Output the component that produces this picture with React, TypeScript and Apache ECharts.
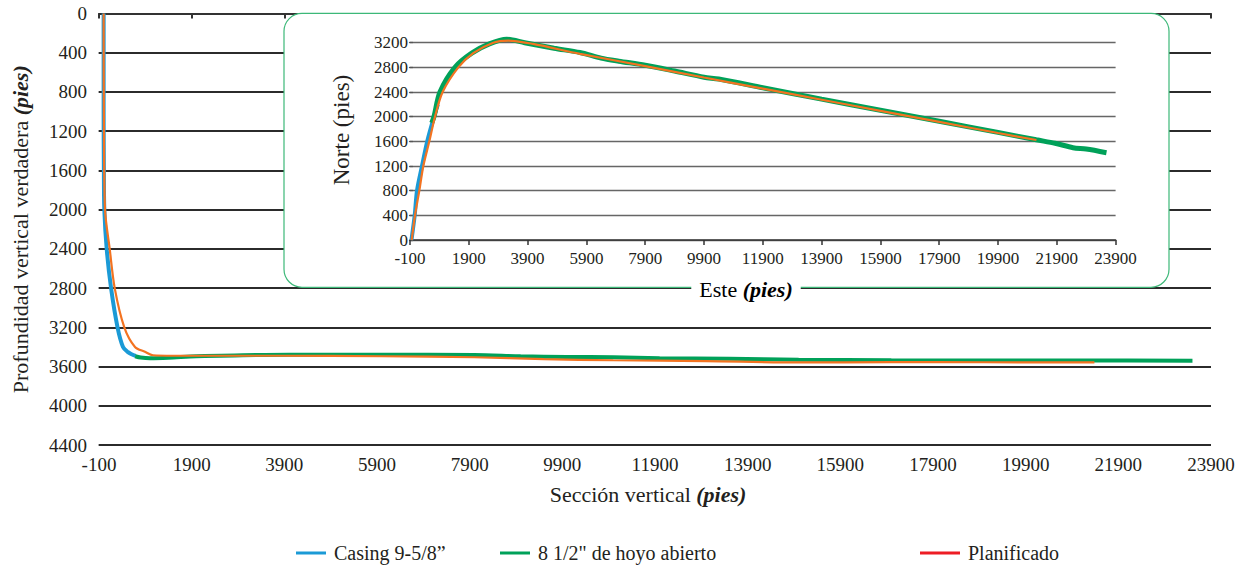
import React, { useEffect, useRef } from 'react';
import * as echarts from 'echarts';

const FONT = 'Liberation Serif';
const TXT = '#231f20';

const SERIES_NAMES = ['Casing 9-5/8”', '8 1/2" de hoyo abierto', 'Planificado'];
const LINE_COLORS = ['#1b9ad6', '#00a159', '#f37321'];
const LEGEND_COLORS = ['#1b9ad6', '#00a159', '#ed1c24'];

// Main chart ticks
const mainXTicks = [-100, 1900, 3900, 5900, 7900, 9900, 11900, 13900, 15900, 17900, 19900, 21900, 23900];
const mainYTicks = [0, 400, 800, 1200, 1600, 2000, 2400, 2800, 3200, 3600, 4000, 4400];
// Inset ticks
const insetXTicks = [-100, 1900, 3900, 5900, 7900, 9900, 11900, 13900, 15900, 17900, 19900, 21900, 23900];
const insetYTicks = [0, 400, 800, 1200, 1600, 2000, 2400, 2800, 3200];

// Main chart: vertical section (x) vs true vertical depth (y)
const casingVS = [0, 0, 5, 15, 66, 160, 300, 418, 526, 605, 690];
const casingTVD = [0, 1000, 1600, 2000, 2400, 2800, 3200, 3400, 3453, 3475, 3492];

const openHoleVS = [680, 800, 1000, 1400, 2000, 3000, 4000, 6000, 8000, 9000, 10000, 11000, 12000, 13500, 15000, 17000, 19000, 21000, 23500];
const openHoleTVD = [3495, 3508, 3515, 3510, 3495, 3485, 3480, 3480, 3482, 3495, 3502, 3505, 3515, 3520, 3530, 3537, 3538, 3538, 3540];

const plannedVS = [0, 5, 30, 131, 239, 446, 677, 892, 1065, 1500, 3800, 6000, 8000, 9500, 11000, 13000, 15000, 17000, 19000, 21384];
const plannedTVD = [0, 1000, 2000, 2400, 2800, 3200, 3400, 3449, 3485, 3490, 3490, 3495, 3505, 3525, 3536, 3545, 3558, 3555, 3556, 3558];

// Inset: Este (x) vs Norte (y)
const casingE = [-50, 60, 138, 308, 485, 716, 850];
const casingN = [0, 400, 800, 1200, 1600, 2000, 2200];

const openHoleE = [640, 716, 920, 1430, 2000, 2600, 3190, 3800, 4800, 5680, 6400, 7000, 7900, 8900, 9900, 10400, 11900, 13900, 15900, 17900, 19900, 21200, 21840, 22450, 22900, 23590];
const openHoleN = [1900, 2000, 2400, 2800, 3030, 3180, 3255, 3200, 3110, 3040, 2950, 2900, 2835, 2740, 2640, 2610, 2470, 2285, 2105, 1925, 1745, 1625, 1570, 1497, 1475, 1416];

const plannedE = [-42, 70, 217, 353, 557, 750, 1010, 1543, 2052, 2732, 3232, 4082, 5680, 7900, 9900, 11900, 13900, 15900, 17900, 19900, 21208];
const plannedN = [0, 400, 800, 1200, 1600, 2000, 2400, 2800, 3030, 3200, 3235, 3180, 3020, 2820, 2635, 2455, 2275, 2095, 1915, 1735, 1622];

const zip = (a: number[], b: number[]) => a.map((v, i) => [v, b[i]]);
const plain = (v: number) => String(v);

export default function App() {
  const ref = useRef<HTMLDivElement>(null);
  useEffect(() => {
    document.body.style.margin = '0';
    if (!ref.current) return;
    const chart = echarts.init(ref.current, undefined, { renderer: 'svg' });

    const titleRich = {
      a: { fontFamily: FONT, fontSize: 22, color: TXT },
      b: { fontFamily: FONT, fontSize: 22, color: TXT, fontStyle: 'italic', fontWeight: 'bold' },
    };

    const mainData = [zip(casingVS, casingTVD), zip(openHoleVS, openHoleTVD), zip(plannedVS, plannedTVD)];
    const insetData = [zip(casingE, casingN), zip(openHoleE, openHoleN), zip(plannedE, plannedN)];
    const widths = [4, 4, 2.2];
    const insetWidths = [4, 5, 2.2];

    const series: any[] = [];
    for (let i = 0; i < 3; i++) {
      series.push({
        type: 'line', name: SERIES_NAMES[i], xAxisIndex: 0, yAxisIndex: 0,
        data: mainData[i], symbol: 'none', showSymbol: false, smooth: 0.3,
        color: LEGEND_COLORS[i], lineStyle: { color: LINE_COLORS[i], width: widths[i] }, z: 2,
      });
    }
    for (let i = 0; i < 3; i++) {
      series.push({
        type: 'line', name: SERIES_NAMES[i], xAxisIndex: 1, yAxisIndex: 1,
        data: insetData[i], symbol: 'none', showSymbol: false, smooth: 0.3, clip: false,
        color: LEGEND_COLORS[i], lineStyle: { color: LINE_COLORS[i], width: insetWidths[i] }, z: 6,
      });
    }

    const legendBase = (i: number, left: number, w: number) => ({
      data: [{ name: SERIES_NAMES[i], itemStyle: { color: LEGEND_COLORS[i] } }],
      left, top: 543, padding: 0, icon: 'rect', itemWidth: w, itemHeight: 3, itemGap: 8,
      textStyle: { fontFamily: FONT, fontSize: 20, color: TXT, padding: [0, 0, 0, 3] },
      selectedMode: false,
    });

    chart.setOption({
      animation: false,
      backgroundColor: '#fff',
      grid: [
        { left: 99, top: 13.5, width: 1112, height: 431.5 },
        { left: 410, top: 42.7, width: 705.6, height: 197.3 },
      ],
      xAxis: [
        {
          type: 'value', gridIndex: 0,
          min: mainXTicks[0], max: mainXTicks[mainXTicks.length - 1], interval: mainXTicks[1] - mainXTicks[0],
          axisLine: { show: true, lineStyle: { color: '#333', width: 2 } },
          axisTick: { show: true, length: 5, lineStyle: { color: '#333', width: 2 } },
          axisLabel: { fontFamily: FONT, fontSize: 19, color: TXT, margin: 10, formatter: plain },
          splitLine: { show: false },
          name: '{a|Sección vertical }{b|(pies)}', nameLocation: 'middle', nameGap: 38,
          nameTextStyle: { fontFamily: FONT, rich: titleRich, padding: [0, 14, 0, 0] },
        },
        {
          type: 'value', gridIndex: 1, z: 5,
          min: insetXTicks[0], max: insetXTicks[insetXTicks.length - 1], interval: insetXTicks[1] - insetXTicks[0],
          axisLine: { show: true, lineStyle: { color: '#333', width: 1.5 } },
          axisTick: { show: true, length: 5, lineStyle: { color: '#333', width: 1.5 } },
          axisLabel: { fontFamily: FONT, fontSize: 17, color: TXT, margin: 10, formatter: plain },
          splitLine: { show: false },
        },
      ],
      yAxis: [
        {
          type: 'value', gridIndex: 0, inverse: true,
          min: mainYTicks[0], max: mainYTicks[mainYTicks.length - 1], interval: mainYTicks[1] - mainYTicks[0],
          axisLine: { show: false },
          axisTick: { show: true, length: 5, lineStyle: { color: '#2b2b2b', width: 2 } },
          axisLabel: { fontFamily: FONT, fontSize: 19, color: TXT, margin: 12, formatter: plain },
          splitLine: { show: true, lineStyle: { color: '#2b2b2b', width: 2 } },
          name: '{a|Profundidad vertical verdadera }{b|(pies)}', nameLocation: 'middle', nameGap: 68,
          nameTextStyle: { fontFamily: FONT, rich: titleRich },
        },
        {
          type: 'value', gridIndex: 1, z: 5,
          min: insetYTicks[0], max: insetYTicks[insetYTicks.length - 1], interval: insetYTicks[1] - insetYTicks[0],
          axisLine: { show: false },
          axisTick: { show: true, length: 4, lineStyle: { color: '#555', width: 1.3 } },
          axisLabel: { fontFamily: FONT, fontSize: 17, color: TXT, margin: 2, formatter: plain },
          splitLine: { show: true, lineStyle: { color: '#666', width: 1.3 } },
        },
      ],
      legend: [
        legendBase(0, 296, 30),
        legendBase(1, 500, 30),
        legendBase(2, 920, 40),
      ],
      graphic: [
        {
          type: 'rect', z: 3,
          shape: { x: 284, y: 13.3, width: 885, height: 274, r: 18 },
          style: { fill: '#fff', stroke: '#3cb878', lineWidth: 1.2 },
        },
        {
          type: 'text', z: 8, x: 746, y: 289,
          style: {
            text: '{a|Este }{b|(pies)}', fontFamily: FONT, rich: titleRich, align: 'center', verticalAlign: 'middle',
            backgroundColor: '#fff', padding: [2, 8],
          },
        },
        {
          type: 'text', z: 8, x: 341, y: 130, rotation: Math.PI / 2,
          style: { text: 'Norte (pies)', fontFamily: FONT, fontSize: 23, fill: TXT, align: 'center', verticalAlign: 'middle' },
        },
      ],
      series,
    });

    return () => chart.dispose();
  }, []);
  return <div ref={ref} style={{ width: 1242, height: 571 }} />;
}
